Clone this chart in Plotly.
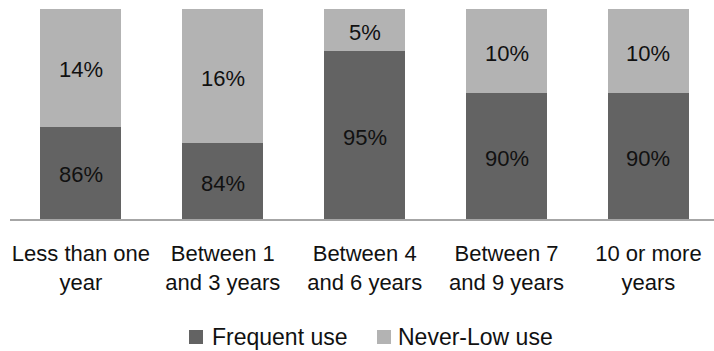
import plotly.graph_objects as go

categories = ["Less than one<br>year", "Between 1<br>and 3 years", "Between 4<br>and 6 years",
              "Between 7<br>and 9 years", "10 or more<br>years"]
series_names = ["Frequent use", "Never-Low use"]
frequent_use = [86, 84, 95, 90, 90]
never_low_use = [14, 16, 5, 10, 10]

Y_MIN, Y_MAX = 75, 100
DARK = "#636363"
LIGHT = "#b3b3b3"
FONT = "Liberation Sans, Arial, sans-serif"
TEXT = "#111111"

W, H = 714, 351
M_L, M_R, M_T, M_B = 10, 0, 9, 132
PW, PH = W - M_L - M_R, H - M_T - M_B


def px_x(px):
    return (px - M_L) / PW


def px_y(py):
    return (H - M_B - py) / PH


fig = go.Figure()
for name, vals, col in zip(series_names, [frequent_use, never_low_use], [DARK, LIGHT]):
    fig.add_trace(go.Bar(x=categories, y=vals, name=name, showlegend=False,
                         marker=dict(color=col, line=dict(width=0))))

# value labels centred on the visible part of each segment
annotations = []
for cat, f, n in zip(categories, frequent_use, never_low_use):
    for yv, label in (((Y_MIN + f) / 2, f), ((f + Y_MAX) / 2, n)):
        annotations.append(dict(x=cat, y=yv, xref="x", yref="y", text=f"{label}%",
                                showarrow=False, yshift=-2,
                                font=dict(size=22, color=TEXT, family=FONT)))

# legend: square swatches followed by their names
shapes = []
legend_items = [(189, 210, DARK), (377, 396, LIGHT)]
for name, (sx, tx, col) in zip(series_names, legend_items):
    shapes.append(dict(type="rect", xref="paper", yref="paper",
                       x0=px_x(sx), x1=px_x(sx + 14), y0=px_y(344), y1=px_y(330),
                       fillcolor=col, line=dict(width=0)))
    annotations.append(dict(x=px_x(tx), y=px_y(337), xref="paper", yref="paper",
                            xanchor="left", yanchor="middle", text=name, showarrow=False,
                            font=dict(size=23, color=TEXT, family=FONT)))

fig.update_layout(
    width=W, height=H,
    barmode="stack", bargap=0.429,
    margin=dict(l=M_L, r=M_R, t=M_T, b=M_B),
    paper_bgcolor="white", plot_bgcolor="white",
    font=dict(family=FONT, size=22, color=TEXT),
    showlegend=False,
    annotations=annotations,
    shapes=shapes,
    xaxis=dict(range=[-0.5, 4.462], showline=True, linecolor="#a6a6a6", linewidth=1.5,
               ticks="", showgrid=False, zeroline=False, tickfont=dict(size=22),
               tickangle=0, automargin=False, ticklabelstandoff=14),
    yaxis=dict(range=[Y_MIN, Y_MAX], visible=False, showgrid=False, zeroline=False),
)

fig.write_html("out.html")
